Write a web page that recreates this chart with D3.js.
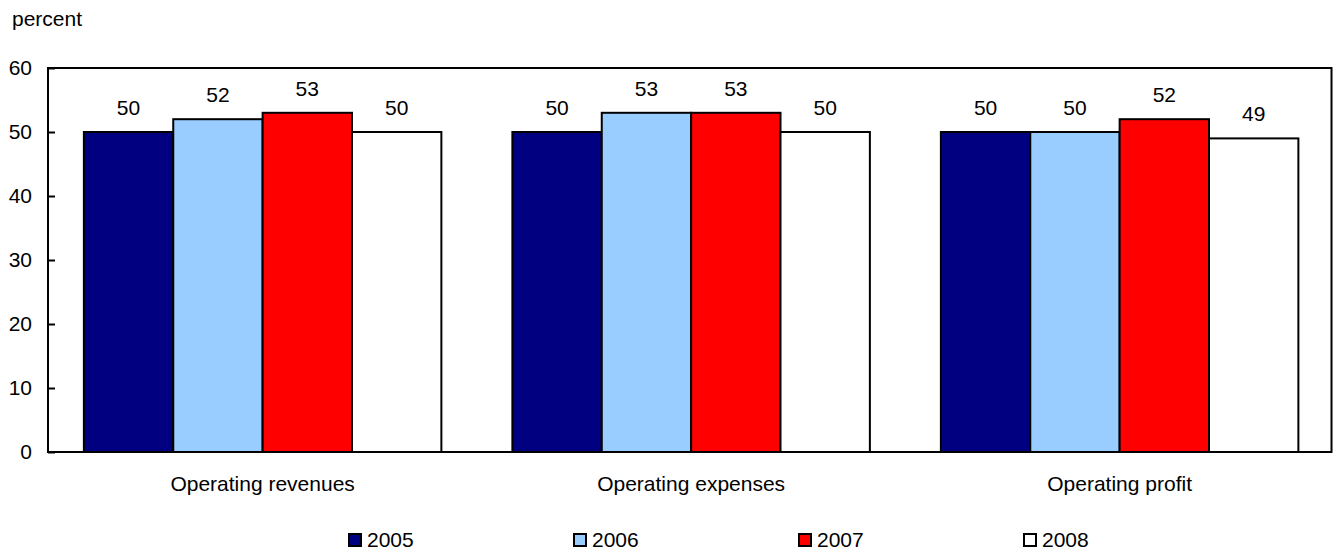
<!DOCTYPE html>
<html>
<head>
<meta charset="utf-8">
<script src="https://cdn.jsdelivr.net/npm/d3@7"></script>
<style>
  html, body { margin: 0; padding: 0; background: #fff; }
  svg { display: block; font-family: "Liberation Sans", Arial, Helvetica, sans-serif; }
</style>
</head>
<body>
<svg id="chart" width="1334" height="550"></svg>
<script>
// Share of totals by year, in percent
const categories = ["Operating revenues", "Operating expenses", "Operating profit"];
const years = ["2005", "2006", "2007", "2008"];
const values2005 = [50, 50, 50];
const values2006 = [52, 53, 50];
const values2007 = [53, 53, 52];
const values2008 = [50, 50, 49];
const yTicks = [0, 10, 20, 30, 40, 50, 60];
const colors = ["#000080", "#99CCFF", "#FF0000", "#FFFFFF"];

const seriesValues = [values2005, values2006, values2007, values2008];
const rows = categories.map((c, i) => ({
  category: c,
  bars: years.map((y, j) => ({ year: y, value: seriesValues[j][i] }))
}));

const svg = d3.select("#chart");
const plotLeft = 48, plotRight = 1331.5, plotTop = 68, plotBottom = 452;
const fontSize = 21;

const x0 = d3.scaleBand()
  .domain(categories)
  .range([plotLeft, plotRight])
  .paddingInner(0.1657)
  .paddingOuter(0.0805)
  .align(0.52);

const x1 = d3.scaleBand()
  .domain(years)
  .range([0, x0.bandwidth()])
  .padding(0);

const y = d3.scaleLinear().domain([0, 60]).range([plotBottom, plotTop]);

const color = d3.scaleOrdinal().domain(years).range(colors);

// unit label
svg.append("text")
  .attr("x", 12)
  .attr("y", 26)
  .attr("font-size", fontSize)
  .attr("fill", "#000")
  .text("percent");

// bars
const groups = svg.append("g").selectAll("g")
  .data(rows)
  .join("g")
  .attr("transform", d => `translate(${x0(d.category)},0)`);

groups.selectAll("rect")
  .data(d => d.bars)
  .join("rect")
  .attr("x", d => x1(d.year))
  .attr("y", d => y(d.value))
  .attr("width", x1.bandwidth())
  .attr("height", d => y(0) - y(d.value))
  .attr("fill", d => color(d.year))
  .attr("stroke", "#000")
  .attr("stroke-width", 2);

// value labels
groups.selectAll("text.value")
  .data(d => d.bars)
  .join("text")
  .attr("class", "value")
  .attr("x", d => x1(d.year) + x1.bandwidth() / 2)
  .attr("y", d => y(d.value) - 17)
  .attr("text-anchor", "middle")
  .attr("font-size", fontSize)
  .attr("fill", "#000")
  .text(d => d.value);

// plot frame
svg.append("rect")
  .attr("x", plotLeft)
  .attr("y", plotTop)
  .attr("width", plotRight - plotLeft)
  .attr("height", plotBottom - plotTop)
  .attr("fill", "none")
  .attr("stroke", "#000")
  .attr("stroke-width", 2);

// y axis with inward ticks
const yAxis = svg.append("g")
  .attr("transform", `translate(${plotLeft},0)`)
  .call(d3.axisLeft(y).tickValues(yTicks).tickSize(-7).tickPadding(16).tickFormat(d3.format("d")));
yAxis.select(".domain").remove();
yAxis.selectAll(".tick line").attr("stroke", "#000").attr("stroke-width", 2);
yAxis.selectAll(".tick text")
  .attr("font-size", fontSize)
  .attr("font-family", "'Liberation Sans', Arial, Helvetica, sans-serif")
  .attr("fill", "#000");

// category labels
svg.append("g").selectAll("text")
  .data(categories)
  .join("text")
  .attr("x", d => x0(d) + x0.bandwidth() / 2)
  .attr("y", 491)
  .attr("text-anchor", "middle")
  .attr("font-size", fontSize)
  .attr("fill", "#000")
  .text(d => d);

// legend
const legendX = d3.scalePoint().domain(years).range([348, 1023]);
const legend = svg.append("g").selectAll("g")
  .data(years)
  .join("g")
  .attr("transform", d => `translate(${legendX(d)},0)`);

legend.append("rect")
  .attr("x", 1)
  .attr("y", 534)
  .attr("width", 12)
  .attr("height", 12)
  .attr("fill", d => color(d))
  .attr("stroke", "#000")
  .attr("stroke-width", 2);

legend.append("text")
  .attr("x", 19)
  .attr("y", 547)
  .attr("font-size", fontSize)
  .attr("fill", "#000")
  .text(d => d);
</script>
</body>
</html>
